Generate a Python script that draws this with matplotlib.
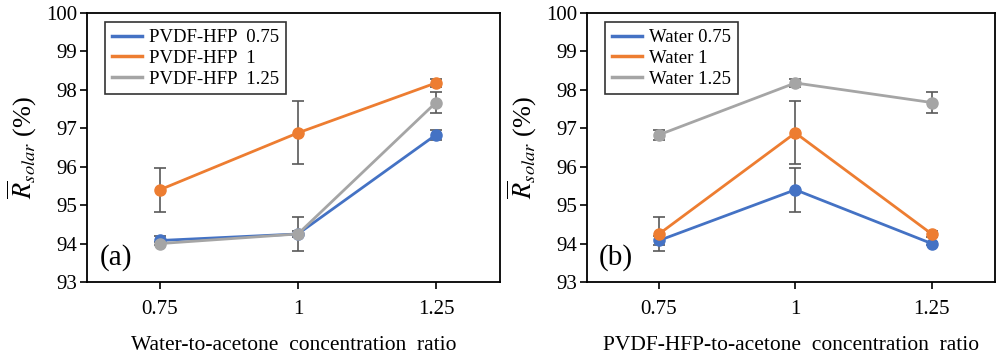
import numpy as np
import matplotlib
matplotlib.use('Agg')
from matplotlib import pyplot as plt
from matplotlib.lines import Line2D

# Data (rows: PVDF-HFP ratio, cols: water ratio)
ratios = [0.75, 1, 1.25]
tick_labels = ['0.75', '1', '1.25']

r_pvdf_075 = [94.08, 94.25, 96.83]
r_pvdf_1 = [95.40, 96.88, 98.18]
r_pvdf_125 = [94.00, 94.25, 97.67]

err_pvdf_075 = [0.12, 0.45, 0.13]
err_pvdf_1 = [0.57, 0.82, 0.10]
err_pvdf_125 = [0.05, 0.08, 0.28]

labels_a = ['PVDF-HFP  0.75', 'PVDF-HFP  1', 'PVDF-HFP  1.25']
labels_b = ['Water 0.75', 'Water 1', 'Water 1.25']
colors = ['#4472C4', '#ED7D31', '#A5A5A5']
err_color = '#595959'

plt.rcParams['font.family'] = ['Liberation Serif', 'DejaVu Serif']
plt.rcParams['mathtext.fontset'] = 'stix'

vals = np.array([r_pvdf_075, r_pvdf_1, r_pvdf_125])
errs = np.array([err_pvdf_075, err_pvdf_1, err_pvdf_125])

W, H = 996, 358
fig = plt.figure(figsize=(W / 100, H / 100), dpi=100)
ax_a = fig.add_axes([87 / W, (H - 282) / H, 413 / W, 269 / H])
ax_b = fig.add_axes([587 / W, (H - 282) / H, 408 / W, 269 / H])


def draw_panel(ax, data, errors, labels, xlabel, tag):
    handles = []
    for i in range(3):
        ax.errorbar(ratios, data[i], yerr=errors[i], color=colors[i], lw=2,
                    marker='o', ms=8, ecolor=err_color, elinewidth=1.2,
                    capsize=4, capthick=1.2, zorder=3)
        # legend shows only lines, like the Excel original
        handles.append(Line2D([], [], color=colors[i], lw=2.5, label=labels[i]))
    ax.set_xlim(0.618, 1.366)
    ax.set_ylim(93, 100)
    ax.set_xticks(ratios)
    ax.set_xticklabels(tick_labels)
    ax.set_yticks(range(93, 101))
    ax.tick_params(direction='out', length=5, width=1.2, labelsize=15)
    ax.tick_params(axis='x', pad=8)
    ax.tick_params(axis='y', pad=2)
    for s in ax.spines.values():
        s.set_linewidth(1.3)
    ax.set_xlabel(xlabel, fontsize=15.5, labelpad=12)
    ax.set_ylabel(r'$\overline{R}_{solar}$ (%)', fontsize=19, labelpad=5)
    ax.text(0.03, 0.065, tag, transform=ax.transAxes, fontsize=21)
    leg = ax.legend(handles=handles, loc='upper left', bbox_to_anchor=(0.044, 0.965),
                    borderaxespad=0, fontsize=13.5, frameon=True, fancybox=False,
                    edgecolor='black', handlelength=1.6, handletextpad=0.4,
                    labelspacing=0.2, borderpad=0.35)
    leg.get_frame().set_linewidth(1.2)


draw_panel(ax_a, vals, errs, labels_a, 'Water-to-acetone  concentration  ratio', '(a)')
draw_panel(ax_b, vals.T, errs.T, labels_b, 'PVDF-HFP-to-acetone  concentration  ratio', '(b)')

fig.savefig('out.png', dpi=100)
